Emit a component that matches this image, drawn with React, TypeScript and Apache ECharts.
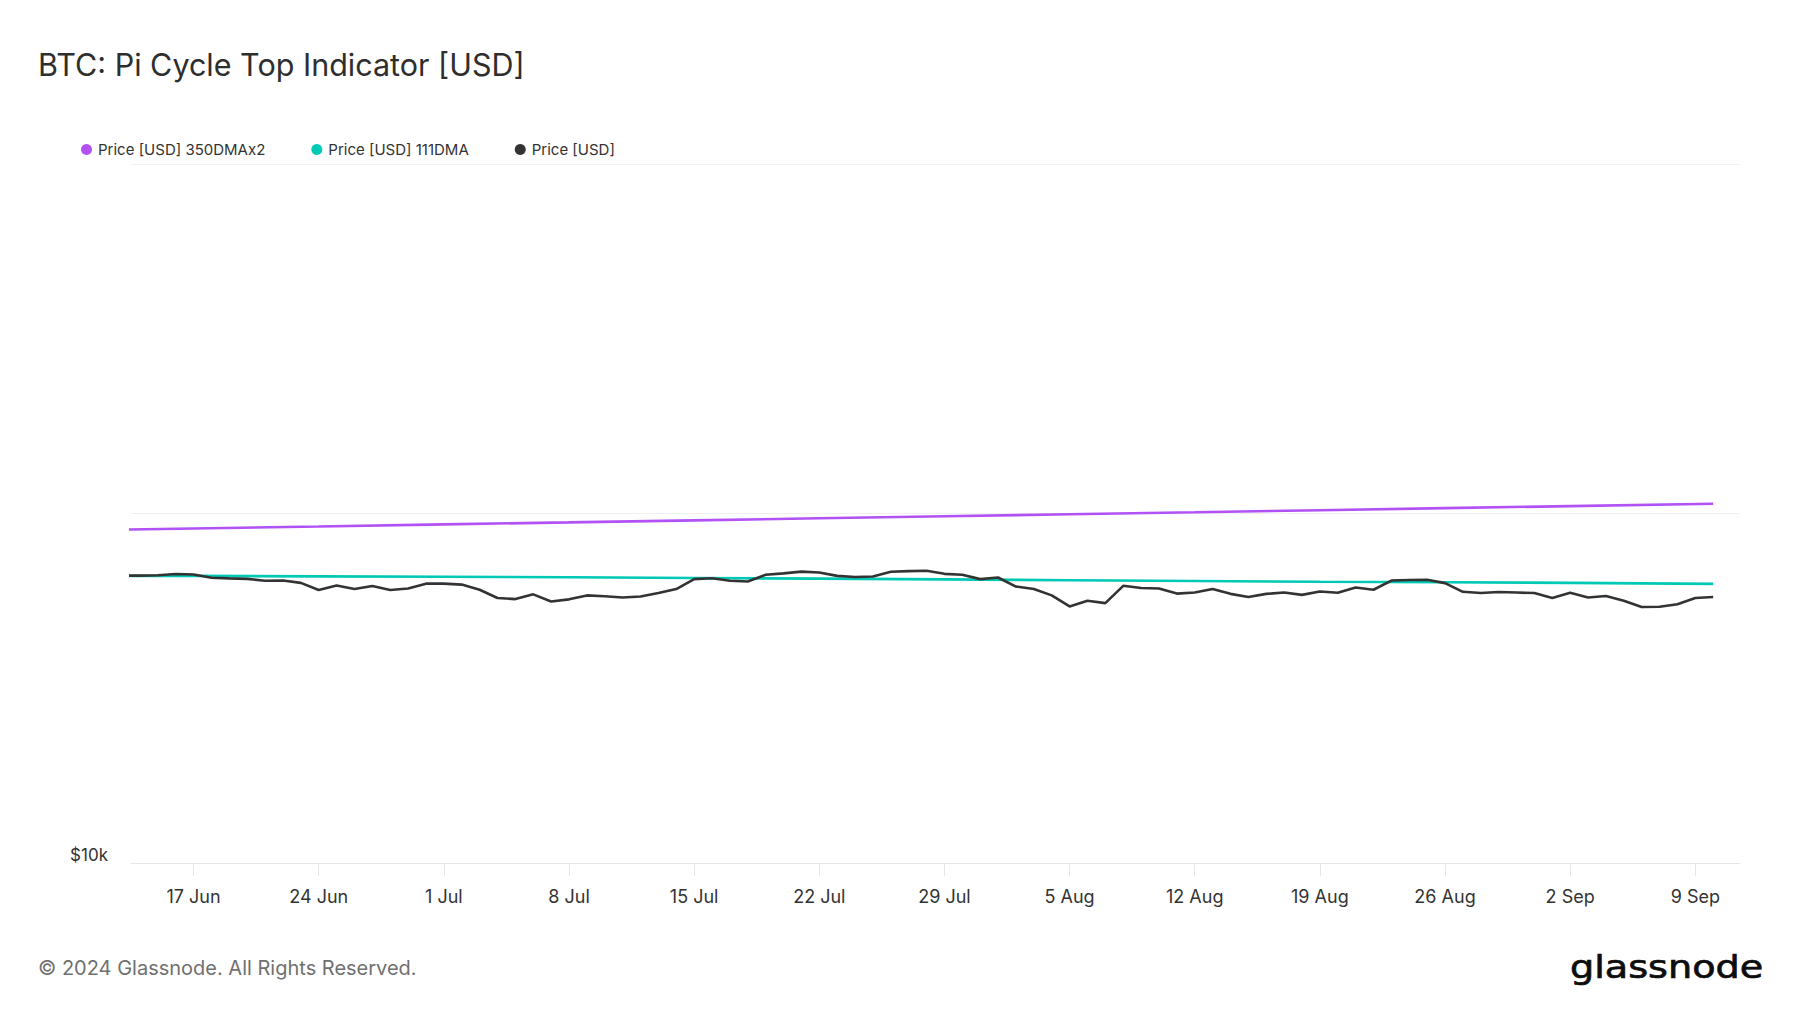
import React, { useEffect, useRef } from 'react';
import * as echarts from 'echarts';

// ---------- data ----------
const dates = [
  '13 Jun', '14 Jun', '15 Jun', '16 Jun', '17 Jun', '18 Jun', '19 Jun', '20 Jun', '21 Jun', '22 Jun',
  '23 Jun', '24 Jun', '25 Jun', '26 Jun', '27 Jun', '28 Jun', '29 Jun', '30 Jun',
  '1 Jul', '2 Jul', '3 Jul', '4 Jul', '5 Jul', '6 Jul', '7 Jul', '8 Jul', '9 Jul', '10 Jul',
  '11 Jul', '12 Jul', '13 Jul', '14 Jul', '15 Jul', '16 Jul', '17 Jul', '18 Jul', '19 Jul', '20 Jul',
  '21 Jul', '22 Jul', '23 Jul', '24 Jul', '25 Jul', '26 Jul', '27 Jul', '28 Jul', '29 Jul', '30 Jul', '31 Jul',
  '1 Aug', '2 Aug', '3 Aug', '4 Aug', '5 Aug', '6 Aug', '7 Aug', '8 Aug', '9 Aug', '10 Aug',
  '11 Aug', '12 Aug', '13 Aug', '14 Aug', '15 Aug', '16 Aug', '17 Aug', '18 Aug', '19 Aug', '20 Aug',
  '21 Aug', '22 Aug', '23 Aug', '24 Aug', '25 Aug', '26 Aug', '27 Aug', '28 Aug', '29 Aug', '30 Aug', '31 Aug',
  '1 Sep', '2 Sep', '3 Sep', '4 Sep', '5 Sep', '6 Sep', '7 Sep', '8 Sep', '9 Sep', '10 Sep',
];

// Price [USD], daily
const price = [
  66400, 66400, 66600, 67100, 66900, 65500, 65200, 65000, 64200, 64300,
  63300, 60400, 62200, 60800, 62000, 60400, 61000, 63000,
  63000, 62600, 60500, 57300, 56900, 58700, 56000, 56800, 58300, 58000,
  57500, 57900, 59200, 60800, 64900, 65300, 64200, 63900, 66800, 67400,
  68200, 67800, 66300, 65800, 66000, 68100, 68400, 68600, 67200, 66800, 64900,
  65600, 61800, 60800, 58300, 54200, 56300, 55400, 62100, 61200, 61000,
  59000, 59400, 60800, 58900, 57700, 58900, 59400, 58500, 59800, 59300,
  61400, 60500, 64300, 64500, 64600, 63200, 59700, 59200, 59600, 59400, 59200,
  57300, 59300, 57500, 58100, 56300, 54000, 54100, 55000, 57300, 57700,
];

// moving averages, read at these dates
const maDates = [
  '13 Jun', '17 Jun', '24 Jun', '1 Jul', '8 Jul', '15 Jul', '22 Jul',
  '29 Jul', '5 Aug', '12 Aug', '19 Aug', '26 Aug', '2 Sep', '10 Sep',
];
const dma111 = [
  66300, 66300, 66100, 65900, 65700, 65400, 65100,
  64800, 64400, 64100, 63800, 63600, 63300, 62900,
];
const dma350x2 = [
  89900, 90600, 91800, 93100, 94300, 95600, 96900,
  98200, 99500, 100800, 102200, 103600, 105000, 106600,
];

const xTickLabels = [
  '17 Jun', '24 Jun', '1 Jul', '8 Jul', '15 Jul', '22 Jul', '29 Jul',
  '5 Aug', '12 Aug', '19 Aug', '26 Aug', '2 Sep', '9 Sep',
];
const yTickValues = [10000];
const yTickLabels = ['$10k'];

const seriesNames = ['Price [USD] 350DMAx2', 'Price [USD] 111DMA', 'Price [USD]'];
const seriesColors = ['#b251f4', '#00c9b5', '#333333'];
const titleText = 'BTC: Pi Cycle Top Indicator [USD]';
const copyrightText = '\u00a9 2024 Glassnode. All Rights Reserved.';
const logoText = 'glassnode';

// ---------- chart ----------
const FONT = 'Inter, "Noto Sans", sans-serif';

function buildOption() {
  const tickIdx = xTickLabels.map((l) => dates.indexOf(l));
  const priceData = price.map((v, i) => [i, v]);
  const dma111Data = maDates.map((d, k) => [dates.indexOf(d), dma111[k]]);
  const dma350Data = maDates.map((d, k) => [dates.indexOf(d), dma350x2[k]]);
  const axisGray = '#e6e6e6';

  const mkSeries = (name: string, color: string, data: number[][], width: number) => ({
    name,
    type: 'line',
    data,
    showSymbol: false,
    symbol: 'none',
    clip: true,
    color,
    lineStyle: { color, width },
    itemStyle: { color },
    emphasis: { disabled: true },
  });

  return {
    animation: false,
    backgroundColor: '#ffffff',
    grid: { left: 131, right: 60, top: 164, bottom: 150, containLabel: false },
    legend: {
      left: 76,
      top: 137,
      icon: 'circle',
      itemWidth: 13,
      itemHeight: 11,
      itemGap: 46,
      selectedMode: false,
      data: seriesNames,
      textStyle: { fontFamily: FONT, fontSize: 15, color: '#333333' },
    },
    xAxis: {
      type: 'value',
      min: 0.5,
      max: dates.length + 0.5,
      axisLine: { show: true, lineStyle: { color: axisGray, width: 1 } },
      axisTick: { show: true, customValues: tickIdx, length: 13, lineStyle: { color: axisGray } },
      axisLabel: {
        customValues: tickIdx,
        formatter: (v: number) => dates[Math.round(v)] || '',
        margin: 24,
        fontSize: 18,
        fontFamily: FONT,
        color: '#333333',
      },
      splitLine: { show: false },
    },
    yAxis: {
      type: 'log',
      logBase: 10,
      min: 10000,
      max: 1000000,
      axisLine: { show: false },
      axisTick: { show: false },
      splitLine: { show: true, lineStyle: { color: '#f0f0f0', width: 1 } },
      axisLabel: {
        formatter: (v: number) => {
          const k = yTickValues.findIndex((t) => Math.abs(t - v) < 1);
          return k >= 0 ? yTickLabels[k] : '';
        },
        verticalAlign: 'bottom',
        margin: 23,
        fontSize: 17,
        fontFamily: FONT,
        color: '#333333',
      },
    },
    series: [
      mkSeries(seriesNames[0], seriesColors[0], dma350Data, 2.6),
      mkSeries(seriesNames[1], seriesColors[1], dma111Data, 2.6),
      mkSeries(seriesNames[2], seriesColors[2], priceData, 2.6),
    ],
    graphic: [
      {
        type: 'text',
        x: 38,
        y: 64,
        style: { text: titleText, fontSize: 30.5, fontFamily: FONT, fill: '#2e2e2e', verticalAlign: 'middle', align: 'left' },
      },
      {
        type: 'text',
        x: 38,
        y: 968,
        style: { text: copyrightText, fontSize: 20, fontFamily: FONT, fill: '#707070', verticalAlign: 'middle', align: 'left' },
      },
      {
        type: 'text',
        x: 1570,
        y: 967,
        scaleX: 1.175,
        style: {
          text: logoText,
          fontSize: 32.5,
          fontFamily: '"DejaVu Sans", sans-serif',
          fill: '#0d0d0d',
          stroke: '#0d0d0d',
          lineWidth: 0.7,
          verticalAlign: 'middle',
          align: 'left',
        },
      },
    ],
  };
}

export default function App() {
  const ref = useRef<HTMLDivElement>(null);
  useEffect(() => {
    if (!ref.current) return;
    document.body.style.margin = '0';
    const chart = echarts.init(ref.current, undefined, { renderer: 'svg' });
    chart.setOption(buildOption() as any);
    return () => chart.dispose();
  }, []);
  return (
    <div
      ref={ref}
      style={{ position: 'fixed', left: 0, top: 0, width: 1800, height: 1013, background: '#ffffff' }}
    />
  );
}
